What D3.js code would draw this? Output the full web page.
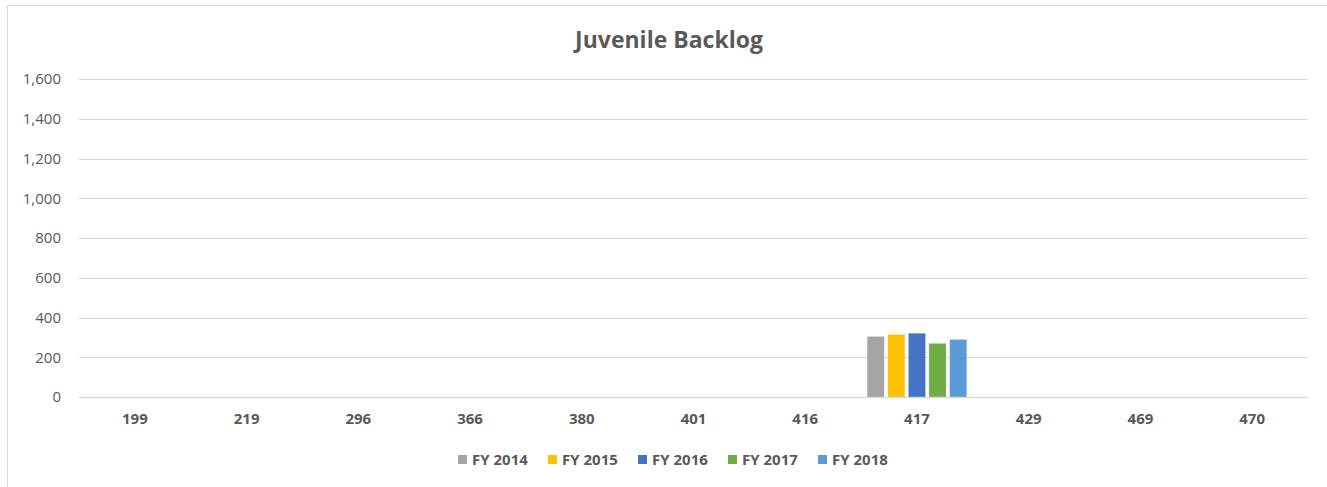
<!DOCTYPE html>
<html><head><meta charset="utf-8">
<script src="https://cdn.jsdelivr.net/npm/d3@7/dist/d3.min.js"></script>
<style>body{margin:0;background:#fff;} svg{display:block;} text{font-family:"Open Sans","Liberation Sans",sans-serif;fill:#595959;}</style>
</head><body>
<svg id="chart" width="1327" height="487"></svg>
<script>
const title = "Juvenile Backlog";
const categories = ["199","219","296","366","380","401","416","417","429","469","470"];
const seriesNames = ["FY 2014","FY 2015","FY 2016","FY 2017","FY 2018"];
const seriesColors = ["#A5A5A5","#FFC000","#4472C4","#70AD47","#5B9BD5"];
const fy2014 = [null,null,null,null,null,null,null,304,null,null,null];
const fy2015 = [null,null,null,null,null,null,null,314,null,null,null];
const fy2016 = [null,null,null,null,null,null,null,320,null,null,null];
const fy2017 = [null,null,null,null,null,null,null,269,null,null,null];
const fy2018 = [null,null,null,null,null,null,null,289,null,null,null];
const yTicks = [0,200,400,600,800,1000,1200,1400,1600];

const seriesValues = [fy2014, fy2015, fy2016, fy2017, fy2018];
const svg = d3.select("#chart");
const W = 1327, H = 487;
const m = {left:79, right:19, top:79, bottom:90};
const FONT = '"Open Sans","Liberation Sans",sans-serif';

svg.append("rect").attr("x",7.5).attr("y",5.5).attr("width",1340).attr("height",500)
  .attr("fill","none").attr("stroke","#d9d9d9").attr("stroke-width",1);

const x = d3.scaleBand().domain(categories).range([m.left, W - m.right]).paddingInner(0).paddingOuter(0);
const y = d3.scaleLinear().domain([0,1600]).range([397, 79]);
const x1 = d3.scaleBand().domain(seriesNames).range([0, x.bandwidth()]).paddingInner(0.18).paddingOuter(0.3);

const yAxis = d3.axisLeft(y).tickValues(yTicks).tickSize(-(W - m.right - m.left)).tickFormat(d3.format(","));
const gy = svg.append("g").attr("transform",`translate(${m.left},0)`).call(yAxis);
gy.select(".domain").remove();
gy.selectAll(".tick line").attr("stroke","#d9d9d9").attr("shape-rendering","crispEdges");
gy.selectAll(".tick text").attr("x",-18).attr("font-size",15).attr("fill","#595959").style("font-family",FONT);

const g = svg.append("g");
seriesValues.forEach((vals, si) => {
  g.selectAll(null).data(categories.map((c,i)=>({c, v: vals[i]})).filter(d=>d.v!=null))
    .enter().append("rect")
    .attr("x", d => x(d.c) + x1(seriesNames[si]))
    .attr("y", d => y(d.v))
    .attr("width", x1.bandwidth())
    .attr("height", d => y(0) - y(d.v))
    .attr("fill", seriesColors[si]);
});

const xAxis = d3.axisBottom(x).tickSize(0);
const gx = svg.append("g").attr("transform",`translate(0,${y(0)})`).call(xAxis);
gx.select(".domain").attr("stroke","#d9d9d9").attr("stroke-width",1.5);
gx.selectAll(".tick text").attr("dy","1.6em").attr("font-size",15).attr("font-weight","bold").attr("fill","#595959").style("font-family",FONT);

svg.append("text").attr("x",669).attr("y",48).attr("text-anchor","middle")
  .attr("font-size",23).attr("font-weight","bold").text(title);

const legend = svg.append("g").attr("transform","translate(458,460)");
const legStep = 90;
seriesNames.forEach((n,i) => {
  const lg = legend.append("g").attr("transform",`translate(${i*legStep},0)`);
  lg.append("rect").attr("x",0).attr("y",-5).attr("width",9).attr("height",9).attr("fill",seriesColors[i]);
  lg.append("text").attr("x",14).attr("y",5).attr("font-size",15).attr("font-weight","bold").text(n);
});
</script>
</body></html>
